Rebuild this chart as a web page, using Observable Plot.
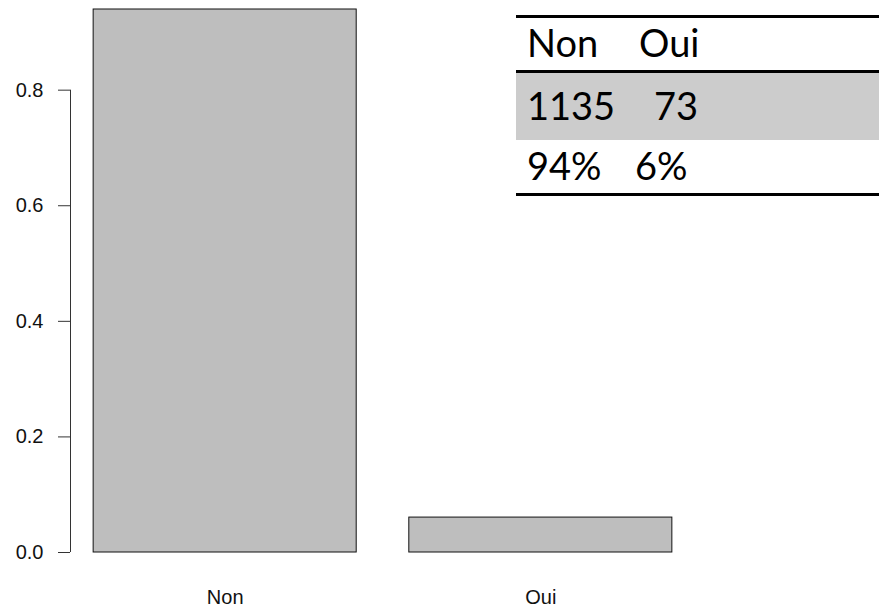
<!DOCTYPE html>
<html>
<head>
<meta charset="utf-8">
<script src="https://cdn.jsdelivr.net/npm/d3@7"></script>
<script src="https://cdn.jsdelivr.net/npm/@observablehq/plot@0.6"></script>
<style>
  html, body { margin: 0; padding: 0; background: #fff; }
  #wrap { position: relative; width: 879px; height: 607px; overflow: hidden; }
  #tbl { position: absolute; left: 516px; top: 15px; width: 363px;
         font-family: Lato, "Open Sans", sans-serif; font-size: 38px; color: #000; }
  .row { position: relative; box-sizing: border-box; }
  .row span { position: absolute; top: 50%; transform: translateY(calc(-50% - 2px)); line-height: 1; white-space: pre; }
</style>
</head>
<body>
<div id="wrap"></div>
<script>
// ---- data ----
const categories = ["Non", "Oui"];
const counts = [1135, 73];
const yTicks = [0, 0.2, 0.4, 0.6, 0.8];

// ---- derived (R barplot conventions: width 1, space 0.2) ----
const total = d3.sum(counts);
const props = counts.map(c => c / total);
const barWidth = 1, space = 0.2;
const data = categories.map((c, i) => ({
  cat: c,
  p: props[i],
  x1: space + i * (barWidth + space),
  x2: space + i * (barWidth + space) + barWidth
}));
const centers = data.map(d => (d.x1 + d.x2) / 2);
const xMin = data[0].x1, xMax = data[data.length - 1].x2;
const pad = 0.04 * (xMax - xMin);
const xDomain = [xMin - pad, xMax + pad];

const chart = Plot.plot({
  width: 879,
  height: 607,
  marginLeft: 70,
  marginRight: 184,
  marginTop: 9,
  marginBottom: 55,
  style: { fontFamily: "'Liberation Sans', Arial, sans-serif", color: "#111", background: "#fff" },
  x: { domain: xDomain, axis: null },
  y: { domain: [0, d3.max(props)], axis: null },
  marks: [
    Plot.rectY(data, { x1: "x1", x2: "x2", y1: 0, y2: "p", fill: "#bebebe", stroke: "#111", strokeWidth: 1 }),
    Plot.axisY({ anchor: "left", label: null, ticks: yTicks, tickSize: 12, tickPadding: 15,
                 tickFormat: d3.format(".1f"), fontSize: 20, stroke: "#333" }),
    Plot.ruleX([xDomain[0]], { y1: yTicks[0], y2: yTicks[yTicks.length - 1], stroke: "#333" }),
    Plot.axisX({ anchor: "bottom", label: null, ticks: centers, tickSize: 0, tickPadding: 37, fontSize: 20,
                 tickFormat: d => categories[centers.indexOf(d)] })
  ]
});
document.getElementById("wrap").appendChild(chart);

// ---- table overlay ----
const pct = props.map(p => Math.round(p * 100) + "%");
const rows = [
  { cells: categories, h: 52, bg: "#fff", left: [11, 123], top: "3px solid #000", bottom: "3px solid #000" },
  { cells: counts.map(String), h: 67, bg: "#cccccc", left: [11, 138] },
  { cells: pct, h: 53, bg: "#fff", left: [11, 119], bottom: "3px solid #000" }
];
const tbl = document.createElement("div");
tbl.id = "tbl";
rows.forEach(r => {
  const row = document.createElement("div");
  row.className = "row";
  row.style.height = r.h + "px";
  row.style.background = r.bg;
  if (r.top) { row.style.borderTop = r.top; row.style.height = (r.h + 3) + "px"; row.style.paddingTop = "3px"; }
  if (r.bottom) { row.style.borderBottom = r.bottom; row.style.height = (parseFloat(row.style.height) + 3) + "px"; }
  r.cells.forEach((c, j) => {
    const s = document.createElement("span");
    s.textContent = c;
    s.style.left = r.left[j] + "px";
    row.appendChild(s);
  });
  tbl.appendChild(row);
});
document.getElementById("wrap").appendChild(tbl);
</script>
</body>
</html>
